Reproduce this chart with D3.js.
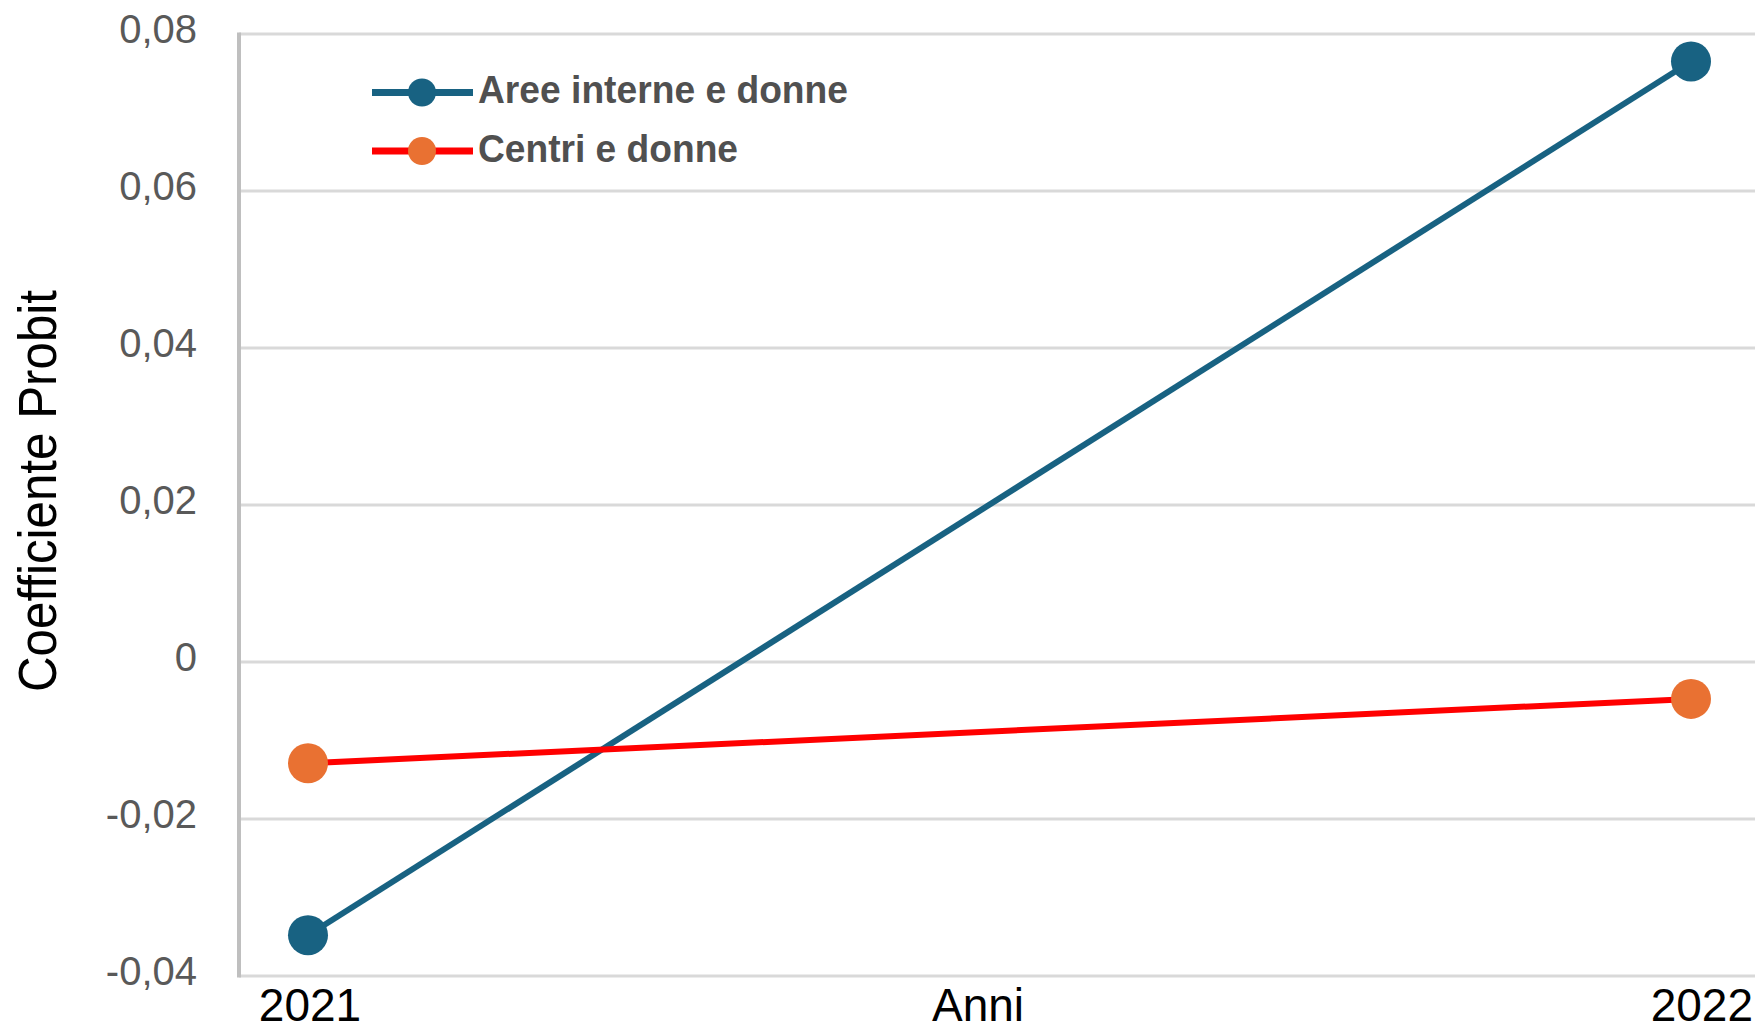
<!DOCTYPE html>
<html>
<head>
<meta charset="utf-8">
<script src="https://cdn.jsdelivr.net/npm/d3@7"></script>
<style>
  html, body { margin: 0; padding: 0; background: #fff; overflow: hidden; }
  svg { display: block; font-family: "Liberation Sans", Arial, sans-serif; }
</style>
</head>
<body>
<svg id="chart"></svg>
<script>
// data
var years = [2021, 2022];
var seriesNames = ["Aree interne e donne", "Centri e donne"];
var areeInterne = [-0.0348, 0.0765];
var centri = [-0.0129, -0.0047];
var yTicks = [-0.04, -0.02, 0, 0.02, 0.04, 0.06, 0.08];

var width = 1755, height = 1030;
var colors = { line: ["#186282", "#ff0000"], marker: ["#186282", "#e97132"] };

var svg = d3.select("#chart").attr("width", width).attr("height", height);

var x = d3.scaleLinear().domain([2021, 2022]).range([308, 1691]);
var y = d3.scaleLinear().domain([-0.04, 0.08]).range([976, 34]);
var axisX = 239;

// italian style: comma decimals, plain hyphen for negatives
var fmt = function(d) {
    if (d === 0) return "0";
    return d3.format(".2f")(d).replace(".", ",").replace("\u2212", "-");
};

// gridlines
svg.append("g").selectAll("line")
    .data(yTicks)
    .enter()
    .append("line")
    .attr("x1", axisX)
    .attr("x2", width)
    .attr("y1", function(d) { return y(d); })
    .attr("y2", function(d) { return y(d); })
    .attr("stroke", "#d9d9d9")
    .attr("stroke-width", 3);

// vertical axis line
svg.append("line")
    .attr("x1", axisX).attr("x2", axisX)
    .attr("y1", y(0.08) - 1.5).attr("y2", y(-0.04) + 1.5)
    .attr("stroke", "#bfbfbf")
    .attr("stroke-width", 4);

// y tick labels
svg.append("g").selectAll("text")
    .data(yTicks)
    .enter()
    .append("text")
    .attr("x", 197)
    .attr("y", function(d) { return y(d) + 9; })
    .attr("text-anchor", "end")
    .attr("font-size", 40)
    .attr("fill", "#595959")
    .text(fmt);

// x tick labels (last one pushed against the right edge)
svg.append("g").selectAll("text")
    .data(years)
    .enter()
    .append("text")
    .attr("x", function(d, i) { return i === 0 ? x(d) + 2 : width - 2; })
    .attr("y", 1021)
    .attr("text-anchor", function(d, i) { return i === 0 ? "middle" : "end"; })
    .attr("font-size", 46)
    .attr("fill", "#000")
    .text(function(d) { return d; });

// axis titles
svg.append("text")
    .attr("x", 978)
    .attr("y", 1021)
    .attr("text-anchor", "middle")
    .attr("font-size", 46)
    .attr("fill", "#000")
    .text("Anni");

svg.append("text")
    .attr("transform", "translate(56,491) rotate(-90)")
    .attr("text-anchor", "middle")
    .attr("font-size", 53)
    .attr("textLength", 402)
    .attr("lengthAdjust", "spacingAndGlyphs")
    .attr("fill", "#000")
    .text("Coefficiente Probit");

// series
var series = [areeInterne, centri];
var line = d3.line()
    .x(function(d, i) { return x(years[i]); })
    .y(function(d) { return y(d); });

series.forEach(function(values, s) {
    var g = svg.append("g");
    g.append("path")
        .datum(values)
        .attr("d", line)
        .attr("fill", "none")
        .attr("stroke", colors.line[s])
        .attr("stroke-width", 6);
    g.selectAll("circle")
        .data(values)
        .enter()
        .append("circle")
        .attr("cx", function(d, i) { return x(years[i]); })
        .attr("cy", function(d) { return y(d); })
        .attr("r", 20)
        .attr("fill", colors.marker[s]);
});

// legend
var legendY = [92.5, 151];
var legend = svg.append("g").selectAll("g")
    .data(seriesNames)
    .enter()
    .append("g")
    .attr("transform", function(d, i) { return "translate(0," + legendY[i] + ")"; });

legend.append("line")
    .attr("x1", 372).attr("x2", 473)
    .attr("y1", 0).attr("y2", 0)
    .attr("stroke", function(d, i) { return colors.line[i]; })
    .attr("stroke-width", 7);

legend.append("circle")
    .attr("cx", 422)
    .attr("cy", 0)
    .attr("r", 14)
    .attr("fill", function(d, i) { return colors.marker[i]; });

legend.append("text")
    .attr("x", 478)
    .attr("y", 10.5)
    .attr("font-size", 38)
    .attr("font-weight", "bold")
    .attr("fill", "#505050")
    .attr("textLength", function(d, i) { return i === 0 ? 370 : 260; })
    .attr("lengthAdjust", "spacingAndGlyphs")
    .text(function(d) { return d; });
</script>
</body>
</html>
